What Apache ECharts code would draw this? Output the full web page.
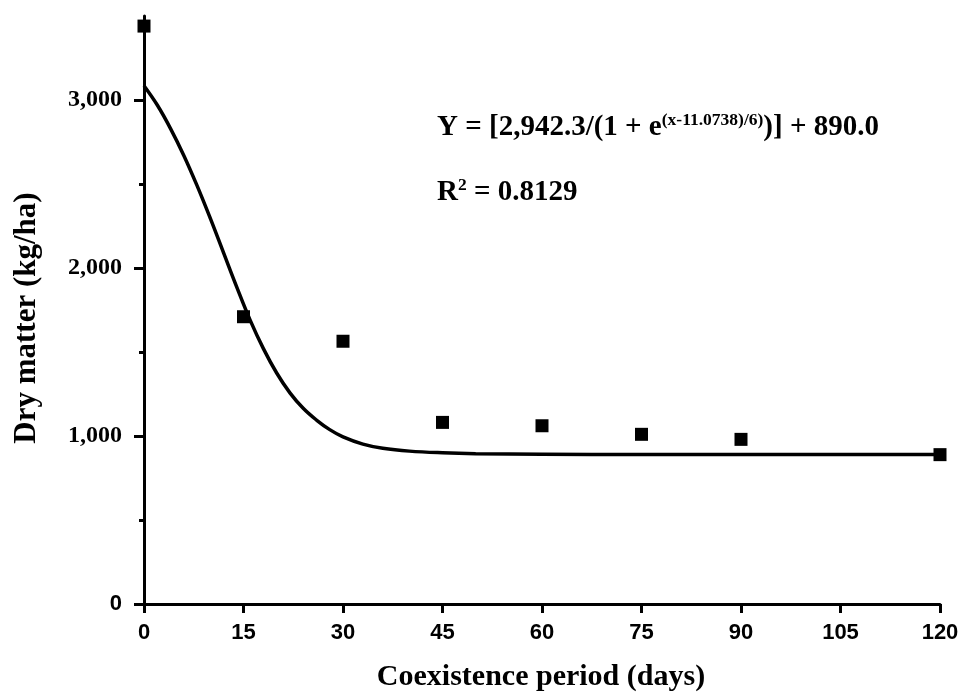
<!DOCTYPE html>
<html>
<head>
<meta charset="utf-8">
<script src="https://cdn.jsdelivr.net/npm/echarts@6/dist/echarts.min.js"></script>
<style>
html,body{margin:0;padding:0;background:#fff;}
#c{width:964px;height:696px;}
</style>
</head>
<body>
<div id="c"></div>
<script>
// Observed data (days, kg/ha)
const obsDays = [0, 15, 30, 45, 60, 75, 90, 120];
const obsValues = [3440, 1710, 1564, 1081, 1061, 1010, 980, 889];

// Fitted curve
const curveDays = [0, 2, 4, 6, 8, 10, 12, 14, 16, 18, 20, 22, 24, 26, 28, 30, 33, 36, 40, 45, 50, 60, 75, 90, 105, 120];
const curveValues = [3085, 2970, 2830, 2670, 2490, 2295, 2090, 1885, 1690, 1520, 1375, 1257, 1165, 1095, 1038, 995, 952, 927, 910, 900, 895, 892, 890, 890, 890, 890];

const xTicks = [0, 15, 30, 45, 60, 75, 90, 105, 120];
const yMajorTicks = [0, 1000, 2000, 3000];
const yMinorTicks = [500, 1500, 2500];

const xTitle = 'Coexistence period (days)';
const yTitle = 'Dry matter (kg/ha)';
const eqMain1 = 'Y = [2,942.3/(1 + e';
const eqSup = '(x-11.0738)/6)';
const eqMain2 = ')] + 890.0';
const r2Text = '0.8129';

const chart = echarts.init(document.getElementById('c'), null, {renderer: 'canvas'});
const serif = '"Liberation Serif", "Times New Roman", serif';
const sans = '"Liberation Sans", Arial, sans-serif';

function fmtThousands(v) {
  if (v === 0) return '{z|0}';
  return '{n|' + v.toLocaleString('en-US') + '}';
}

const eqRich = {
  m: {fontFamily: serif, fontWeight: 'bold', fontSize: 29, color: '#000', lineHeight: 34, verticalAlign: 'bottom'},
  s: {fontFamily: serif, fontWeight: 'bold', fontSize: 17.5, color: '#000', lineHeight: 34, verticalAlign: 'bottom', padding: [0, 0, 13, 0]}
};

const option = {
  animation: false,
  backgroundColor: '#fff',
  grid: {left: 144, right: 24, top: 16, bottom: 92, containLabel: false},
  xAxis: {
    type: 'value', min: 0, max: 120, interval: 15,
    axisLine: {show: true, lineStyle: {color: '#000', width: 3}},
    axisTick: {show: true, inside: false, length: 9, lineStyle: {color: '#000', width: 3}, customValues: xTicks},
    axisLabel: {show: true, margin: 18, fontFamily: sans, fontWeight: 'bold', fontSize: 22, color: '#000', customValues: xTicks},
    splitLine: {show: false}
  },
  yAxis: [{
    type: 'value', min: 0, max: 3500,
    axisLine: {show: true, lineStyle: {color: '#000', width: 3}},
    axisTick: {show: true, inside: false, length: 10, lineStyle: {color: '#000', width: 3}, customValues: yMajorTicks},
    axisLabel: {
      show: true, margin: 22, color: '#000', customValues: yMajorTicks,
      formatter: fmtThousands,
      rich: {
        n: {fontFamily: serif, fontWeight: 'bold', fontSize: 24, color: '#000'},
        z: {fontFamily: sans, fontWeight: 'bold', fontSize: 22, color: '#000'}
      }
    },
    splitLine: {show: false}
  }, {
    type: 'value', min: 0, max: 3500, position: 'left',
    axisLine: {show: false},
    axisTick: {show: true, inside: false, length: 5, lineStyle: {color: '#000', width: 3}, customValues: yMinorTicks},
    axisLabel: {show: false},
    splitLine: {show: false}
  }],
  graphic: [
    {
      type: 'text', x: 541, y: 677, z: 10,
      style: {text: xTitle, fontFamily: serif, fontWeight: 'bold', fontSize: 30, fill: '#000', align: 'center', verticalAlign: 'middle'}
    },
    {
      type: 'text', x: 27, y: 318, rotation: Math.PI / 2, z: 10,
      style: {text: yTitle, fontFamily: serif, fontWeight: 'bold', fontSize: 31, fill: '#000', align: 'center', verticalAlign: 'middle'}
    },
    {
      type: 'text', left: 437, top: 111, z: 10,
      style: {text: '{m|' + eqMain1 + '}{s|' + eqSup + '}{m|' + eqMain2 + '}', rich: eqRich}
    },
    {
      type: 'text', left: 437, top: 176, z: 10,
      style: {text: '{m|R}{s|2}{m| = ' + r2Text + '}', rich: eqRich}
    }
  ],
  series: [
    {
      type: 'line', name: 'fit',
      data: curveDays.map((d, i) => [d, curveValues[i]]),
      smooth: 0.4,
      showSymbol: false, symbol: 'none',
      lineStyle: {color: '#000', width: 3.5},
      z: 2
    },
    {
      type: 'scatter', name: 'observed',
      data: obsDays.map((d, i) => [d, obsValues[i]]),
      symbol: 'rect', symbolSize: 13,
      itemStyle: {color: '#000', opacity: 1},
      clip: false,
      z: 3
    }
  ]
};
chart.setOption(option);
</script>
</body>
</html>
